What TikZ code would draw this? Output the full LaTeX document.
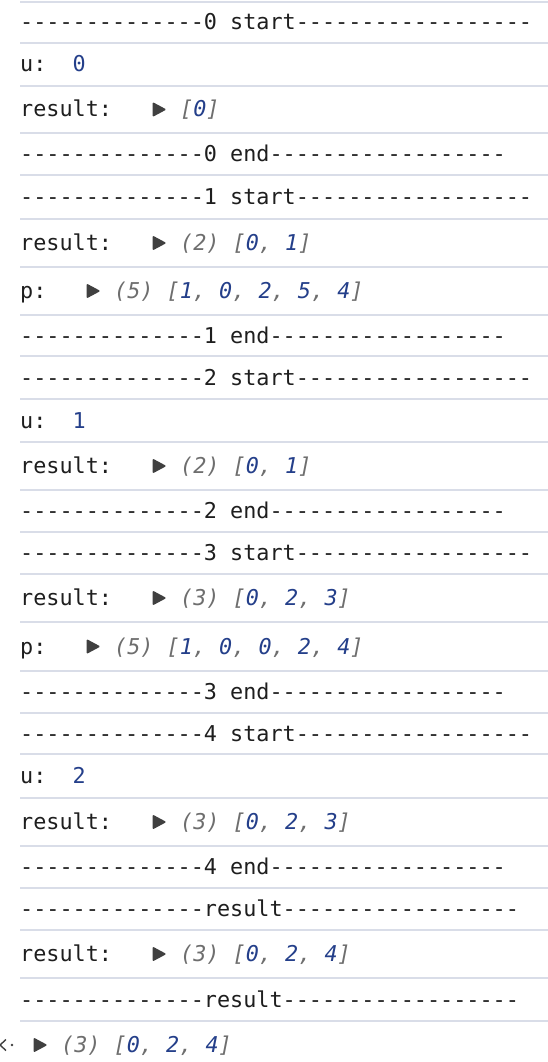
\documentclass[tikz,border=0pt]{standalone}
\usepackage{fontspec}
\setmonofont{DejaVu Sans Mono}
\usetikzlibrary{positioning, shapes.geometric}

\definecolor{logblack}{HTML}{1E1E1E}
\definecolor{numblue}{HTML}{243F8A}
\definecolor{arrgrey}{HTML}{6E6E6E}
\definecolor{trigrey}{HTML}{404040}
\definecolor{sepline}{HTML}{D9DDE8}

\newcommand{\nval}[1]{\textcolor{numblue}{#1}}

\begin{document}
\begin{tikzpicture}[x=1pt, y=-1pt, node distance=13pt]
    \tikzstyle{every node}=[inner sep=0pt, text height=18pt, text depth=3pt]
    \tikzstyle{logtxt}=[anchor=west, text=logblack, font=\ttfamily\fontsize{21.8}{26}\selectfont]
    \tikzstyle{banner}=[logtxt]
    \tikzstyle{arr}=[anchor=west, text=arrgrey, font=\ttfamily\itshape\fontsize{21.8}{26}\selectfont]
    \tikzstyle{tri}=[isosceles triangle, isosceles triangle stretches, fill=trigrey, text height=, text depth=,
                     minimum width=15pt, minimum height=14pt, rounded corners=1.2pt]
    \tikzstyle{sep}=[draw=sepline, line width=1.5pt]

    \fill[white] (0,0) rectangle (548,1062);
    \useasboundingbox (0,0) rectangle (548,1062);

    % Draw the separator lines between the rows
    \foreach \y in {2,43,86,133,175,219,267,315,356,399,442,490,532,574,622,671,713,754,798,846,888,930,978,1021}
    \draw[sep] (20,\y) -- (548,\y);

    % Draw the start / end banners
    \foreach \name/\y/\txt in {s0/22.5/0 start, e0/154/0 end, s1/197/1 start, e1/335.5/1 end,
                               s2/377.5/2 start, e2/511/2 end, s3/553/3 start, e3/692/3 end,
                               s4/733.5/4 start, e4/867/4 end, res1/909/result, res2/999.5/result}
    \node[banner] (\name) at (20,\y) {--------------\txt------------------};

    % Draw the u values
    \foreach \name/\y/\v in {u0/64.5/0, u1/420.5/1, u2/776/2}
    \node[logtxt] (\name) at (20,\y) {u:\ \ \nval{\v}};

    % Draw the result arrays
    \foreach \name/\y/\a in {r0/109.5/{[\nval{0}]},
                             r1/243/{(2) [\nval{0}, \nval{1}]},
                             r2/466/{(2) [\nval{0}, \nval{1}]},
                             r3/598/{(3) [\nval{0}, \nval{2}, \nval{3}]},
                             r4/822/{(3) [\nval{0}, \nval{2}, \nval{3}]},
                             r5/954/{(3) [\nval{0}, \nval{2}, \nval{4}]}} {
        \node[logtxt] (\name) at (20,\y) {result:};
        \node[tri] (\name-t) at (157,\y) {};
        \node[arr, right=of \name-t] (\name-a) {\a};
    }

    % Draw the p arrays
    \foreach \name/\y/\a in {p1/291/{(5) [\nval{1}, \nval{0}, \nval{2}, \nval{5}, \nval{4}]},
                             p3/646.5/{(5) [\nval{1}, \nval{0}, \nval{0}, \nval{2}, \nval{4}]}} {
        \node[logtxt] (\name) at (20,\y) {p:};
        \node[tri] (\name-t) at (91,\y) {};
        \node[arr, right=of \name-t] (\name-a) {\a};
    }

    % Returned value, with the cut-off prompt icon
    \draw[trigrey, line width=1.4pt] (6,1039.5) -- (0,1045) -- (6,1050.5);
    \fill[trigrey] (12,1045) circle (1.4pt);
    \node[tri] (ret-t) at (38,1045) {};
    \node[arr, right=of ret-t] (ret-a) {(3) [\nval{0}, \nval{2}, \nval{4}]};
\end{tikzpicture}
\end{document}
